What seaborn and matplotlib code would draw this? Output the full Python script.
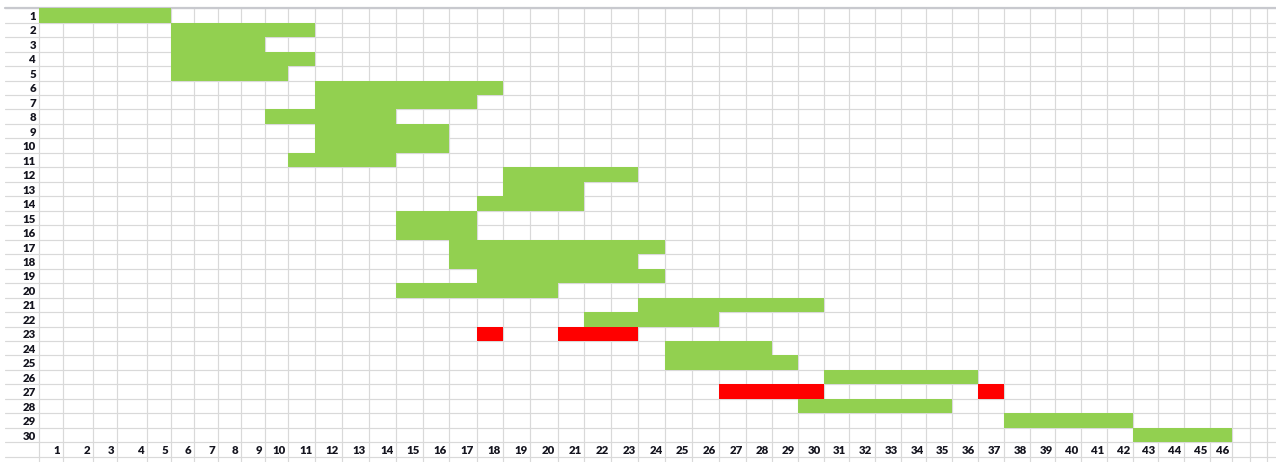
import numpy as np
import pandas as pd
import matplotlib
matplotlib.use("Agg")
import matplotlib.pyplot as plt
import seaborn as sns
from matplotlib.colors import ListedColormap

# ---------------- data ----------------
tasks = list(range(1, 31))
days = list(range(1, 47))
row_labels = [str(t) for t in tasks]
day_labels = [str(d) for d in days]

seg_task = [1, 2, 3, 4, 5, 6, 7, 8, 9, 10, 11, 12, 13, 14, 15, 16, 17, 18, 19, 20, 21, 22,
            23, 23, 24, 25, 26, 27, 27, 28, 29, 30]
seg_first = [1, 6, 6, 6, 6, 12, 12, 10, 12, 12, 11, 19, 19, 18, 15, 15, 17, 17, 18, 15, 24, 22,
             18, 21, 25, 25, 31, 27, 37, 30, 38, 43]
seg_last = [5, 11, 9, 11, 10, 18, 17, 14, 16, 16, 14, 23, 21, 21, 17, 17, 24, 23, 24, 20, 30, 26,
            18, 23, 28, 29, 36, 30, 37, 35, 42, 46]
seg_state = ["ok"] * 22 + ["late", "late"] + ["ok"] * 3 + ["late", "late"] + ["ok"] * 3

# ---------------- layout / style ----------------
state_code = {"ok": 1, "late": 2}
GREEN = "#92d050"
RED = "#ff0000"
GRID = "#d9d9d9"
TEXT = "#15151f"
# spreadsheet column widths in pixels: row-header column, then columns 1..49
col_w = [34.3,
         23.4, 30.6, 23.4, 30.6, 23.4, 23.6, 23.4, 23.6, 23.4, 23.3,
         27, 26.7, 27, 27.3, 26.7, 26.6, 27.4, 26.6, 27, 27.4,
         26.6, 27, 27, 27, 27, 26.7, 27, 25.7, 26, 26,
         25.3, 25.7, 26, 25.6, 26, 25.4, 26, 26, 25.6, 25.7,
         25.7, 26, 25.6, 25.7, 25.7, 22.6, 17.4, 17.3, 17.3]
W, H = 1276, 462
LEFT_PX = 5.0
TOP_PX = 8.2
ROW_H = 14.47

px_edges = LEFT_PX + np.concatenate([[0], np.cumsum(col_w)])
data_edges = np.arange(-1, len(col_w))


def fwd(x):
    return np.interp(x, data_edges, px_edges)


def inv(p):
    return np.interp(p, px_edges, data_edges)


# ---------------- build cell matrix ----------------
grid = np.zeros((len(tasks), len(days)))
for t, f, l, s in zip(seg_task, seg_first, seg_last, seg_state):
    grid[tasks.index(t), f - 1:l] = state_code[s]
df = pd.DataFrame(grid, index=tasks, columns=days)

sns.set_theme(style="white")
plt.rcParams["font.family"] = ["Lato", "DejaVu Sans"]

fig = plt.figure(figsize=(W / 100, H / 100), dpi=100)
ax = fig.add_axes([LEFT_PX / W, 0, 1 - LEFT_PX / W, (H - TOP_PX) / H])

sns.heatmap(df, ax=ax, mask=df.eq(0), cmap=ListedColormap([GREEN, RED]),
            vmin=0.5, vmax=2.5, cbar=False, xticklabels=False, yticklabels=False,
            linewidths=0)

ax.set_xscale("function", functions=(fwd, inv))
ax.set_xticks(np.arange(0, len(col_w) - 1))
ax.set_yticks(np.arange(0, len(tasks) + 2))
ax.set_xlim(-1, float(inv(W)))
ax.set_ylim((H - TOP_PX) / ROW_H, 0)

ax.tick_params(length=0, labelbottom=False, labelleft=False, labeltop=False, labelright=False)
ax.grid(True, color=GRID, lw=0.85)
ax.set_axisbelow(True)
ax.set_xlabel("")
ax.set_ylabel("")
for s in ax.spines.values():
    s.set_visible(False)

ax.axhline(0, color="#c8c9ce", lw=1.6, zorder=0.9, clip_on=False)

font = dict(family=["Lato", "DejaVu Sans"], weight="heavy", size=8.2, color=TEXT)
for i, lab in enumerate(row_labels):
    ax.annotate(lab, xy=(0, i + 0.5), xytext=(-2.4, -3.3), textcoords="offset points",
                ha="right", va="baseline", **font)
for j, lab in enumerate(day_labels):
    ax.annotate(lab, xy=(j + 1, len(tasks) + 0.5), xytext=(-2.0, -3.3),
                textcoords="offset points", ha="right", va="baseline", **font)

fig.savefig("out.png", dpi=100, facecolor="white")
